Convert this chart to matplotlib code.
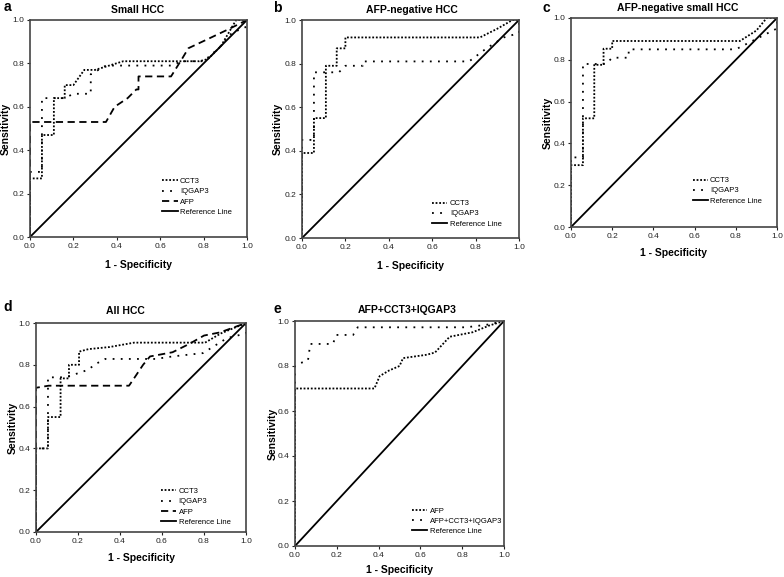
import matplotlib
matplotlib.use("Agg")
import matplotlib.pyplot as plt

plt.rcParams['font.family'] = ['Liberation Sans', 'DejaVu Sans']

# ---------------- data ----------------
ticks = [0.0, 0.2, 0.4, 0.6, 0.8, 1.0]
tick_labels = ["0.0", "0.2", "0.4", "0.6", "0.8", "1.0"]

# Panel a: Small HCC
a_cct3_fpr = [0, 0, 0.055, 0.055, 0.11, 0.11, 0.16, 0.16, 0.2, 0.25, 0.30, 0.43, 0.78, 0.82, 0.88, 0.95, 1.0]
a_cct3_tpr = [0, 0.27, 0.27, 0.47, 0.47, 0.64, 0.64, 0.70, 0.70, 0.77, 0.77, 0.81, 0.81, 0.82, 0.88, 1.0, 1.0]
a_iqgap3_fpr = [0, 0, 0.055, 0.055, 0.16, 0.2, 0.28, 0.28, 0.35, 0.65, 0.7, 0.8, 0.87, 0.93, 1.0, 1.0]
a_iqgap3_tpr = [0, 0.30, 0.30, 0.64, 0.64, 0.66, 0.66, 0.75, 0.79, 0.79, 0.81, 0.81, 0.87, 0.94, 0.97, 1.0]
a_afp_fpr = [0, 0, 0.35, 0.39, 0.45, 0.49, 0.5, 0.5, 0.65, 0.70, 0.73, 0.815, 0.92, 1.0]
a_afp_tpr = [0, 0.53, 0.53, 0.60, 0.64, 0.68, 0.68, 0.74, 0.74, 0.82, 0.87, 0.91, 0.96, 1.0]

# Panel b: AFP-negative HCC
b_cct3_fpr = [0, 0, 0.055, 0.055, 0.11, 0.11, 0.16, 0.16, 0.2, 0.2, 0.82, 0.9, 0.97, 1.0]
b_cct3_tpr = [0, 0.39, 0.39, 0.55, 0.55, 0.79, 0.79, 0.87, 0.87, 0.92, 0.92, 0.96, 1.0, 1.0]
b_iqgap3_fpr = [0, 0, 0.035, 0.055, 0.055, 0.17, 0.2, 0.28, 0.28, 0.77, 0.85, 0.93, 1.0, 1.0]
b_iqgap3_tpr = [0, 0.45, 0.45, 0.45, 0.76, 0.76, 0.79, 0.79, 0.81, 0.81, 0.87, 0.92, 0.94, 1.0]

# Panel c: AFP-negative small HCC
c_cct3_fpr = [0, 0, 0.058, 0.058, 0.113, 0.113, 0.158, 0.158, 0.2, 0.2, 0.82, 0.9, 0.95, 1.0]
c_cct3_tpr = [0, 0.296, 0.296, 0.52, 0.52, 0.776, 0.776, 0.853, 0.853, 0.89, 0.89, 0.94, 1.0, 1.0]
c_iqgap3_fpr = [0, 0, 0.03, 0.058, 0.058, 0.17, 0.2, 0.28, 0.28, 0.8, 0.9, 1.0, 1.0]
c_iqgap3_tpr = [0, 0.333, 0.333, 0.333, 0.78, 0.78, 0.81, 0.81, 0.85, 0.85, 0.9, 0.95, 1.0]

# Panel d: All HCC
d_cct3_fpr = [0, 0, 0.057, 0.057, 0.117, 0.117, 0.157, 0.157, 0.205, 0.205, 0.25, 0.35, 0.467, 0.805, 0.88, 1.0]
d_cct3_tpr = [0, 0.40, 0.40, 0.55, 0.55, 0.735, 0.735, 0.80, 0.80, 0.863, 0.875, 0.885, 0.906, 0.906, 0.95, 1.0]
d_iqgap3_fpr = [0, 0, 0.057, 0.057, 0.117, 0.157, 0.245, 0.29, 0.33, 0.57, 0.65, 0.795, 0.91, 1.0, 1.0]
d_iqgap3_tpr = [0, 0.40, 0.40, 0.74, 0.74, 0.745, 0.775, 0.807, 0.828, 0.828, 0.84, 0.856, 0.928, 0.95, 1.0]
d_afp_fpr = [0, 0, 0.06, 0.443, 0.47, 0.51, 0.543, 0.65, 0.73, 0.80, 0.876, 1.0]
d_afp_tpr = [0, 0.69, 0.70, 0.70, 0.74, 0.80, 0.84, 0.86, 0.90, 0.94, 0.955, 1.0]

# Panel e: AFP+CCT3+IQGAP3
e_afp_fpr = [0, 0, 0.365, 0.38, 0.405, 0.45, 0.5, 0.517, 0.63, 0.67, 0.74, 0.85, 0.93, 1.0]
e_afp_tpr = [0, 0.70, 0.70, 0.70, 0.755, 0.78, 0.80, 0.835, 0.85, 0.86, 0.93, 0.95, 0.98, 1.0]
e_comb_fpr = [0, 0, 0.022, 0.062, 0.073, 0.182, 0.196, 0.278, 0.30, 0.82, 0.93, 1.0]
e_comb_tpr = [0, 0.80, 0.812, 0.824, 0.898, 0.898, 0.938, 0.938, 0.972, 0.972, 0.985, 1.0]

ref_xy = [0, 1]

# ---------------- styles ----------------
DENSE = dict(color='black', lw=1.3, linestyle=(0, (1, 1)))
SPACED = dict(color='black', lw=1.3, linestyle=(0, (1, 3.5)))
DASHED = dict(color='black', lw=1.3, linestyle=(0, (4, 2.5)))
SOLID = dict(color='black', lw=1.3, linestyle='-')

W, H = 784, 577
fig = plt.figure(figsize=(W / 100, H / 100), dpi=100)


def make_axes(x0, y0, x1, y1):
    return fig.add_axes([x0 / W, 1 - y1 / H, (x1 - x0) / W, (y1 - y0) / H])


def style_axes(ax, wpx, hpx, ylab_off, xlab_off):
    ax.set_xlim(0, 1)
    ax.set_ylim(0, 1)
    ax.set_xticks(ticks)
    ax.set_xticklabels(tick_labels)
    ax.set_yticks(ticks)
    ax.set_yticklabels(tick_labels)
    ax.tick_params(direction='out', length=2.5, width=0.8, pad=1.5,
                   labelsize=6, colors='#222222')
    for s in ax.spines.values():
        s.set_linewidth(1.2)
        s.set_color('#444444')
    ax.set_xlabel('1 - Specificity', fontsize=7.5, fontweight='bold')
    ax.set_ylabel('Sensitivity', fontsize=7.5, fontweight='bold')
    # right edge of rotated ylabel / top of xlabel, offsets in pixels
    ax.yaxis.set_label_coords(-ylab_off / wpx, 0.5)
    ax.xaxis.set_label_coords(0.5, -xlab_off / hpx)


def add_legend(ax, handles, labels, x, y):
    ax.legend(handles, labels, loc='upper left', bbox_to_anchor=(x, y),
              frameon=False, fontsize=5.5, handlelength=2.0, handletextpad=0.3,
              labelspacing=0.38, borderpad=0, borderaxespad=0)


panels = [
    (30, 20, 247, 237), (302, 20, 519, 238), (571, 18, 777, 227),
    (36, 323, 246, 532), (295, 321, 504, 546),
]
ylab_offsets = [19, 19, 18, 18, 17.5]
xlab_offsets = [23, 23, 21, 21, 19]
axes = []
for p, yo, xo in zip(panels, ylab_offsets, xlab_offsets):
    ax = make_axes(*p)
    style_axes(ax, p[2] - p[0], p[3] - p[1], yo, xo)
    axes.append(ax)
axa, axb, axc, axd, axe = axes

# a
h1, = axa.plot(a_cct3_fpr, a_cct3_tpr, **DENSE)
h2, = axa.plot(a_iqgap3_fpr, a_iqgap3_tpr, **SPACED)
h3, = axa.plot(a_afp_fpr, a_afp_tpr, **DASHED)
h4, = axa.plot(ref_xy, ref_xy, **SOLID)
add_legend(axa, [h1, h2, h3, h4], ['CCT3', 'IQGAP3', 'AFP', 'Reference Line'], 0.61, 0.273)

# b
h1, = axb.plot(b_cct3_fpr, b_cct3_tpr, **DENSE)
h2, = axb.plot(b_iqgap3_fpr, b_iqgap3_tpr, **SPACED)
h4, = axb.plot(ref_xy, ref_xy, **SOLID)
add_legend(axb, [h1, h2, h4], ['CCT3', 'IQGAP3', 'Reference Line'], 0.60, 0.175)

# c
h1, = axc.plot(c_cct3_fpr, c_cct3_tpr, **DENSE)
h2, = axc.plot(c_iqgap3_fpr, c_iqgap3_tpr, **SPACED)
h4, = axc.plot(ref_xy, ref_xy, **SOLID)
add_legend(axc, [h1, h2, h4], ['CCT3', 'IQGAP3', 'Reference Line'], 0.59, 0.24)

# d
h1, = axd.plot(d_cct3_fpr, d_cct3_tpr, **DENSE)
h2, = axd.plot(d_iqgap3_fpr, d_iqgap3_tpr, **SPACED)
h3, = axd.plot(d_afp_fpr, d_afp_tpr, **DASHED)
h4, = axd.plot(ref_xy, ref_xy, **SOLID)
add_legend(axd, [h1, h2, h3, h4], ['CCT3', 'IQGAP3', 'AFP', 'Reference Line'], 0.595, 0.212)

# e
h1, = axe.plot(e_afp_fpr, e_afp_tpr, **DENSE)
h2, = axe.plot(e_comb_fpr, e_comb_tpr, **SPACED)
h4, = axe.plot(ref_xy, ref_xy, **SOLID)
add_legend(axe, [h1, h2, h4], ['AFP', 'AFP+CCT3+IQGAP3', 'Reference Line'], 0.56, 0.172)

# titles
titles = [("Small HCC", 138, 10), ("AFP-negative HCC", 412, 10), ("AFP-negative small HCC", 678, 8),
          ("All HCC", 125, 311), ("AFP+CCT3+IQGAP3", 407, 310)]
for t, x, y in titles:
    fig.text(x / W, 1 - y / H, t, ha='center', va='center', fontsize=7.5, fontweight='bold')

letters = [("a", 7, 7), ("b", 277, 8), ("c", 546, 8), ("d", 8, 307), ("e", 277, 309)]
for t, x, y in letters:
    fig.text(x / W, 1 - y / H, t, ha='center', va='center', fontsize=10, fontweight='bold')

fig.savefig('out.png', dpi=100)
